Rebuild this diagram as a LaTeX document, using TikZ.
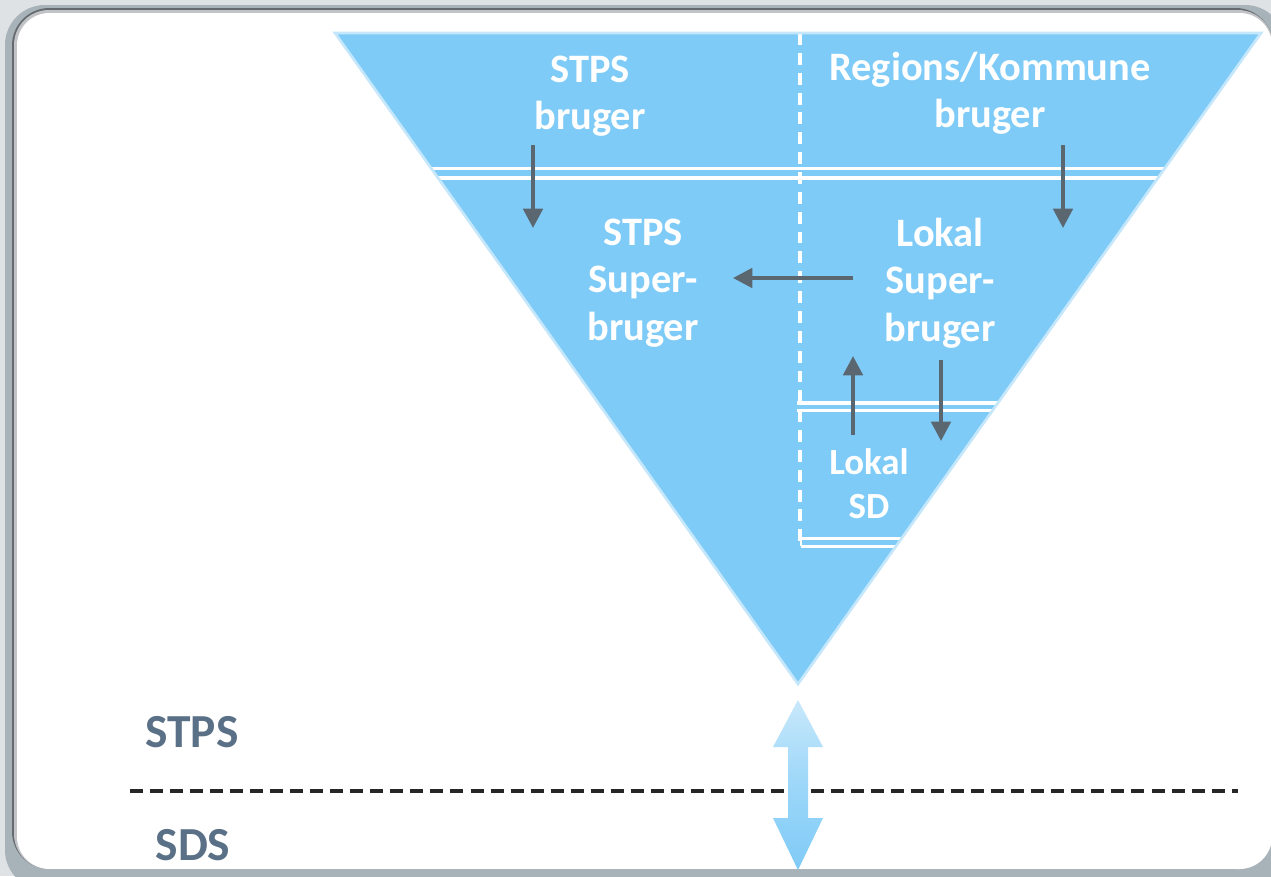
\documentclass[tikz,border=0pt]{standalone}
\usepackage{fontspec}
\setmainfont{Carlito}
\usetikzlibrary{arrows.meta}
\definecolor{bgGray}{RGB}{222,226,229}
\definecolor{frameGray}{RGB}{168,178,185}
\definecolor{shadowGray}{RGB}{100,106,112}
\definecolor{triFill}{RGB}{127,203,247}
\definecolor{triEdge}{RGB}{196,231,251}
\definecolor{arrowGray}{RGB}{91,103,112}
\definecolor{botText}{RGB}{90,112,134}
\definecolor{arrLight}{RGB}{200,232,251}
\begin{document}
\begin{tikzpicture}[x=0.02cm,y=-0.02cm,
  lbl/.style={text=white,font=\fontsize{23}{27}\selectfont\bfseries,align=center,inner sep=0pt},
  lblsmall/.style={text=white,font=\fontsize{21}{25}\selectfont\bfseries,align=center,inner sep=0pt},
  botlbl/.style={text=botText,font=\fontsize{27}{30}\selectfont\bfseries,inner sep=0pt},
  flow/.style={draw=arrowGray,line width=2.2pt,-{Triangle[length=11pt,width=11pt]}},
  dbl/.style={white,line width=2.2pt},
  vdash/.style={white,line width=1.8pt,dash pattern=on 6.8pt off 4.5pt},
  hdash/.style={black!85,line width=1.8pt,dash pattern=on 7.4pt off 4pt}]
\useasboundingbox (0,0) rectangle (1271,876);
% frame
\fill[bgGray] (0,0) rectangle (1271,876);
\fill[frameGray,rounded corners=0.8cm] (5,5) rectangle (1285,890);
\fill[shadowGray,rounded corners=0.75cm] (12,8) rectangle (1273,869);
\fill[white!60!shadowGray,rounded corners=0.7cm] (14,10) rectangle (1273,869);
\fill[white,rounded corners=0.65cm] (17,13) rectangle (1272,869);
% triangle
\coordinate (tl) at (335,33);
\coordinate (tr) at (1261,33);
\coordinate (apex) at (798,684);
\fill[triFill] (tl) -- (tr) -- (apex) -- cycle;
\begin{scope}
\clip (tl) -- (tr) -- (apex) -- cycle;
\draw[vdash] (800,33) -- (800,545);
\draw[dbl] (300,168.5) -- (1300,168.5);
\draw[dbl] (300,178) -- (1300,178);
\draw[dbl] (797,403) -- (1100,403);
\draw[dbl] (797,410.5) -- (1100,410.5);
\draw[dbl] (801,538.5) -- (1000,538.5);
\draw[dbl] (801,546.5) -- (1000,546.5);
\draw[white,line width=1.6pt] (801,532) -- (801,546);
\end{scope}
\draw[triEdge,line width=1.5pt,line join=miter] (tl) -- (tr) -- (apex) -- cycle;
% texts
\node[lbl] (stpsb) at (590,96) {STPS\\bruger};
\node[lbl] (regb) at (990,93) {Regions/Kommune\\bruger};
\node[lbl] (stpssup) at (643,283) {STPS\\Super-\\bruger};
\node[lbl] (loksup) at (940,283) {Lokal\\Super-\\bruger};
\node[lblsmall] (loksd) at (869,484) {Lokal\\SD};
\node[botlbl] (stps) at (192,732) {STPS};
\node[botlbl] (sds) at (193,845) {SDS};
% arrows
\coordinate (a1s) at (533,145); \coordinate (a1e) at (533,228);
\coordinate (a2s) at (1063,145); \coordinate (a2e) at (1063,228);
\coordinate (a3s) at (853,278); \coordinate (a3e) at (733,278);
\coordinate (a4s) at (853,435); \coordinate (a4e) at (853,356);
\coordinate (a5s) at (941,360); \coordinate (a5e) at (941,441);
\draw[flow] (a1s) -- (a1e);
\draw[flow] (a2s) -- (a2e);
\draw[flow] (a3s) -- (a3e);
\draw[flow] (a4s) -- (a4e);
\draw[flow] (a5s) -- (a5e);
% dashed divider
\coordinate (dl) at (130,791);
\coordinate (dr) at (1238,791);
\draw[hdash] (dl) -- (dr);
% double arrow
\shade[top color=arrLight,bottom color=triFill,middle color=triFill!60!arrLight,shading angle=0]
  (798,700) -- (823,747) -- (808,747) -- (808,818) -- (823,818) -- (798,870)
  -- (773,818) -- (788,818) -- (788,747) -- (773,747) -- cycle;
\end{tikzpicture}
\end{document}
